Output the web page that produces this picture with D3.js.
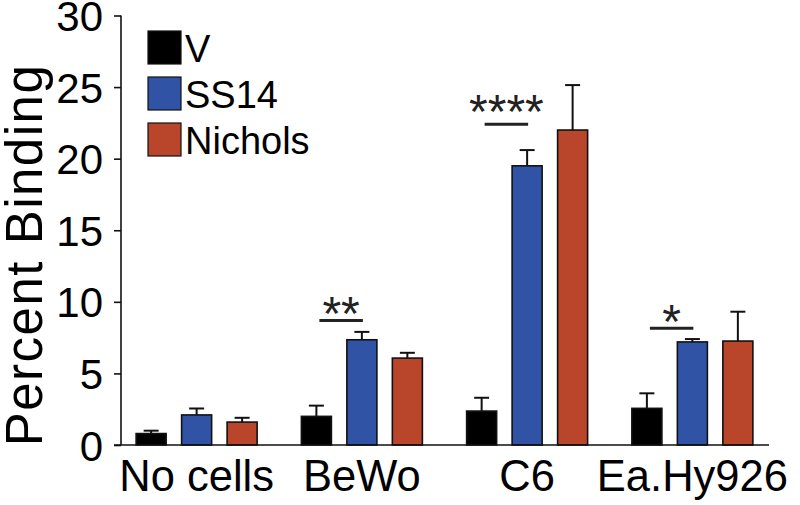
<!DOCTYPE html>
<html>
<head>
<meta charset="utf-8">
<script src="https://cdn.jsdelivr.net/npm/d3@7"></script>
<style>
  html, body { margin: 0; padding: 0; background: #fff; }
  svg { display: block; }
  text { font-family: "Liberation Sans", Arial, Helvetica, sans-serif; fill: #000; }
</style>
</head>
<body>
<svg id="chart" width="800" height="505"></svg>
<script>
// ---- data ----
const categories = ["No cells", "BeWo", "C6", "Ea.Hy926"];
const series = ["V", "SS14", "Nichols"];
const seriesColors = ["#000000", "#3053a6", "#b9452b"];
const valuesV       = [0.8, 2.0, 2.37, 2.56];
const valuesSS14    = [2.1, 7.35, 19.5, 7.2];
const valuesNichols = [1.6, 6.07, 22.0, 7.26];
const errV       = [0.2, 0.75, 0.93, 1.05];
const errSS14    = [0.45, 0.55, 1.1, 0.2];
const errNichols = [0.3, 0.37, 3.14, 2.05];
const yTicks = [0, 5, 10, 15, 20, 25, 30];
// significance annotations: category, bracket level (y value), label
const sigCategories = ["BeWo", "C6", "Ea.Hy926"];
const sigLevels = [8.7, 22.4, 8.15];
const sigLabels = ["**", "****", "*"];
const sigGaps = [12, 18, 12];

const values = [valuesV, valuesSS14, valuesNichols];
const errs = [errV, errSS14, errNichols];

const svg = d3.select("#chart");
const x0 = 114, x1 = 775, yTop = 15.5, yBot = 445;

const x = d3.scaleBand().domain(categories).range([x0, x1]).paddingInner(0).paddingOuter(0);
const bw = x.bandwidth();
const xs = d3.scaleBand().domain(series).range([bw / 2 - 60.5, bw / 2 + 60.5]).paddingInner(0.34).paddingOuter(0);
const y = d3.scaleLinear().domain([0, 30]).range([yBot, yTop]);

const data = [];
categories.forEach((c, i) => {
  series.forEach((s, j) => {
    data.push({ cat: c, ser: s, v: values[j][i], e: errs[j][i], color: seriesColors[j] });
  });
});

// error bars (drawn first, line goes into bar)
const eg = svg.append("g").attr("stroke", "#111").attr("stroke-width", 2).attr("fill", "none");
data.forEach(d => {
  const cx = x(d.cat) + xs(d.ser) + xs.bandwidth() / 2;
  eg.append("line").attr("x1", cx).attr("x2", cx).attr("y1", y(d.v)).attr("y2", y(d.v + d.e));
  eg.append("line").attr("x1", cx - 7.5).attr("x2", cx + 7.5).attr("y1", y(d.v + d.e)).attr("y2", y(d.v + d.e));
});

// bars
svg.append("g").selectAll("rect").data(data).join("rect")
  .attr("x", d => x(d.cat) + xs(d.ser))
  .attr("width", xs.bandwidth())
  .attr("y", d => y(d.v))
  .attr("height", d => y(0) - y(d.v))
  .attr("fill", d => d.color)
  .attr("stroke", "#111")
  .attr("stroke-width", 1.6);

// y axis
const yAxis = d3.axisLeft(y).tickValues(yTicks).tickSize(7).tickPadding(11);
const gy = svg.append("g").attr("transform", `translate(121,0)`).call(yAxis);
gy.select(".domain").attr("stroke", "#111").attr("stroke-width", 1.6).attr("d", `M0,${yTop}V${yBot}`);
gy.selectAll(".tick line").attr("stroke", "#111").attr("stroke-width", 1.6);
gy.selectAll(".tick text").attr("font-size", 42).attr("dy", "0.36em").style("font-family", "'Liberation Sans', Arial, sans-serif");

// x axis
const xAxis = d3.axisBottom(x).tickSize(0).tickPadding(15);
const gx = svg.append("g").attr("transform", `translate(0,${yBot})`).call(xAxis);
gx.select(".domain").attr("stroke", "#111").attr("stroke-width", 1.6).attr("d", `M114,0H769`);
gx.selectAll(".tick text").attr("font-size", 43.5).attr("dy", "0.71em").style("font-family", "'Liberation Sans', Arial, sans-serif");

// y title
svg.append("text")
  .attr("transform", `translate(42,255) rotate(-90)`)
  .attr("text-anchor", "middle")
  .attr("font-size", 51)
  .attr("letter-spacing", 1.5)
  .text("Percent Binding");

// legend
const lg = svg.append("g");
series.forEach((s, j) => {
  const top = 31 + j * 46;
  lg.append("rect").attr("x", 148).attr("y", top).attr("width", 33).attr("height", 33)
    .attr("fill", seriesColors[j]).attr("stroke", "#111").attr("stroke-width", 1.2);
  lg.append("text").attr("x", 185).attr("y", top + 31).attr("font-size", 38).text(s);
});

// significance
const sg = svg.append("g");
sigCategories.forEach((c, i) => {
  const a = x(c) + xs("V") + xs.bandwidth() / 2 + 3;
  const b = x(c) + xs("SS14") + xs.bandwidth() / 2 + 1;
  const ly = y(sigLevels[i]);
  sg.append("line").attr("x1", a).attr("x2", b).attr("y1", ly).attr("y2", ly)
    .attr("stroke", "#222").attr("stroke-width", 3);
  sg.append("text").attr("x", (a + b) / 2).attr("y", ly + 22 - sigGaps[i]).attr("text-anchor", "middle")
    .attr("font-size", 48).style("fill", "#222").text(sigLabels[i]);
});
</script>
</body>
</html>
